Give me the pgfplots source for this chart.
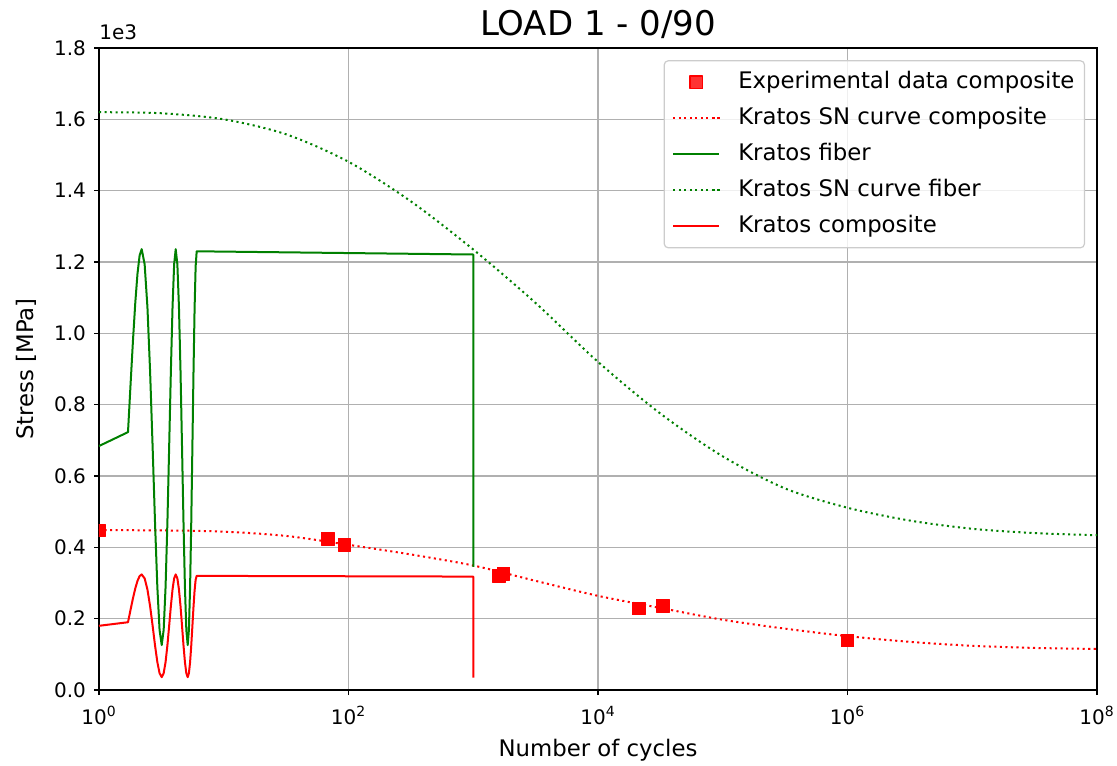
\documentclass[border=0pt]{standalone}
\usepackage{fontspec}
\setmainfont{DejaVu Sans}
\usepackage{pgfplots}
\pgfplotsset{compat=1.18}
\definecolor{mplred}{rgb}{1,0,0}
\definecolor{mplgreen}{rgb}{0,0.5,0}
\definecolor{gridgray}{HTML}{B0B0B0}
\definecolor{legframe}{HTML}{CCCCCC}

\begin{document}
\begin{tikzpicture}
\useasboundingbox (-49.5pt,-37.5pt) rectangle (509pt,345pt);
\begin{axis}[
  name=ax,
  at={(0,0)}, anchor=south west,
  scale only axis, width=499pt, height=321pt,
  xmode=log, log basis x=10,
  xmin=1, xmax=1e8, ymin=0, ymax=1800,
  xtick={1,1e2,1e4,1e6,1e8},
  xticklabels={10\textsuperscript{0},10\textsuperscript{2},10\textsuperscript{4},10\textsuperscript{6},10\textsuperscript{8}},
  xminorticks=false, yminorticks=false,
  ytick={0,200,400,600,800,1000,1200,1400,1600,1800},
  yticklabels={0.0,0.2,0.4,0.6,0.8,1.0,1.2,1.4,1.6,1.8},
  grid=major,
  major grid style={gridgray, line width=0.6pt},
  tick align=outside, xtick pos=left, ytick pos=left,
  major tick length=2.5pt,
  tick style={black, line width=0.6pt},
  axis line style={black, line width=0.8pt},
  tick label style={font=\fontsize{10}{12}\selectfont},
  xticklabel style={anchor=base, yshift=-14.5pt},
  yticklabel style={anchor=east, xshift=-0.5pt},
  clip marker paths=true,
  every axis plot/.append style={line join=round},
  title={LOAD 1 - 0/90},
  every axis title/.style={at={(axis description cs:0.5,1)}, anchor=base, yshift=6pt, font=\fontsize{17}{20}\selectfont},
  xlabel={Number of cycles},
  xlabel style={at={(axis description cs:0.5,0)}, anchor=base, yshift=-33pt, font=\fontsize{11.4}{13.7}\selectfont},
  ylabel={Stress [MPa]},
  ylabel style={at={([xshift=-32.7pt]axis description cs:0,0.5)}, anchor=base, font=\fontsize{11.4}{13.7}\selectfont},
  legend cell align=left,
  legend image code/.code={\draw[mark repeat=2,mark phase=2,#1] plot coordinates {(0pt,0pt)(11.5pt,0pt)(23pt,0pt)};},
  legend style={
    at={(axis description cs:0.988,0.981)}, anchor=north east,
    draw=legframe, line width=0.6pt, rounded corners=2pt,
    fill=white, fill opacity=0.8, text opacity=1,
    font=\fontsize{11.4}{13.7}\selectfont,
    inner xsep=4pt, inner ysep=4.25pt,
    row sep=5pt, column sep=8pt,
    nodes={inner sep=1pt, text height=8.6pt, text depth=2.4pt},
  },
]

% measured fatigue lives of the composite
\addplot[only marks, mark=square*, mark size=3.15pt, color=mplred] coordinates {
  (1,447) (68,423) (93,407) (1606,320) (1742,326)
  (21200,229) (33200,235) (1000000,139)
};
\addlegendentry{Experimental data composite}

% SN curve of the composite
\addplot[mplred, line width=1pt, dash pattern=on 1.04pt off 1.72pt, smooth] coordinates {
  (1,448) (3.162,447.5) (10,444) (31.62,432) (100,407) (316.2,380)
  (1000,349) (3162,306) (10000,264) (31623,230) (100000,197)
  (316228,172) (1000000,151) (3162278,135) (10000000,124)
  (31622777,118) (100000000,115)
};
\addlegendentry{Kratos SN curve composite}

% stress history in the fiber
\addplot[mplgreen, line width=1pt] coordinates {
  (1,684) (1.708,723)
  (1.790,855.8) (1.872,979.5) (1.954,1085.7) (2.035,1167.3) (2.117,1218.5) (2.199,1236)
  (2.322,1193.7) (2.445,1073.5) (2.568,893.3) (2.691,681) (2.813,468.7) (2.936,288.5) (3.059,168.3) (3.182,126)
  (3.299,168.3) (3.417,288.5) (3.534,468.7) (3.651,681) (3.768,893.3) (3.886,1073.5) (4.003,1193.7) (4.120,1236)
  (4.248,1193.7) (4.375,1073.5) (4.503,893.3) (4.630,681) (4.758,468.7) (4.885,288.5) (5.013,168.3) (5.140,126)
  (5.256,168.1) (5.372,287.6) (5.488,466.8) (5.604,678) (5.721,889.2) (5.837,1068.4) (5.953,1188.1) (6.069,1230)
  (1000,1221) (1000,345)
};
\addlegendentry{Kratos fiber}

% SN curve of the fiber
\addplot[mplgreen, line width=1pt, dash pattern=on 1.04pt off 1.72pt, smooth] coordinates {
  (1,1620) (3.162,1617) (10,1600) (31.62,1558) (100,1481) (316.2,1370)
  (1000,1235) (3162,1085) (10000,920) (31623,775) (100000,655)
  (316228,565) (1000000,511) (3162278,475) (10000000,452)
  (31622777,440) (100000000,434)
};
\addlegendentry{Kratos SN curve fiber}

% stress history in the composite
\addplot[mplred, line width=1pt] coordinates {
  (1,180) (1.708,190)
  (1.790,224.7) (1.872,257) (1.954,284.8) (2.035,306.0) (2.117,319.4) (2.199,324)
  (2.322,313.0) (2.445,281.8) (2.568,235.1) (2.691,180) (2.813,124.9) (2.936,78.2) (3.059,47.0) (3.182,36)
  (3.299,47.0) (3.417,78.2) (3.534,124.9) (3.651,180) (3.768,235.1) (3.886,281.8) (4.003,313.0) (4.120,324)
  (4.248,313.0) (4.375,281.8) (4.503,235.1) (4.630,180) (4.758,124.9) (4.885,78.2) (5.013,47.0) (5.140,36)
  (5.256,46.8) (5.372,77.6) (5.488,123.7) (5.604,178) (5.721,232.3) (5.837,278.4) (5.953,309.2) (6.069,320)
  (1000,318) (1000,35)
};
\addlegendentry{Kratos composite}
\end{axis}
% offset of the y tick values
\node[anchor=base west, inner sep=0pt, font=\fontsize{10}{12}\selectfont] at ([yshift=4pt]ax.north west) {1e3};
\end{tikzpicture}
\end{document}
